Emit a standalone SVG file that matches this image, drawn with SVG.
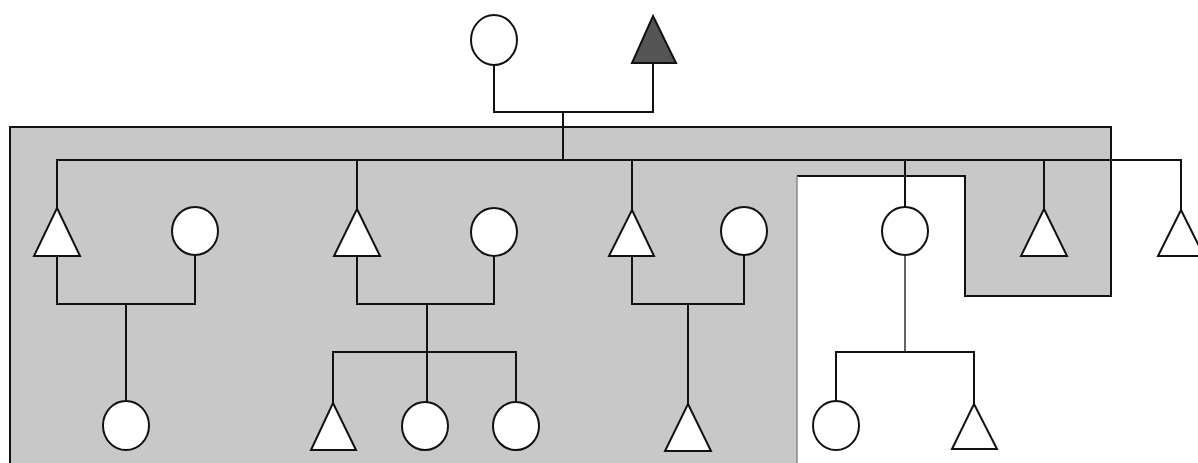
<svg xmlns="http://www.w3.org/2000/svg" width="1198" height="463" viewBox="0 0 1198 463">
<style>
.n{fill:#fff;stroke:#111;stroke-width:2}
.aff{fill:#555;stroke:#111;stroke-width:2}
.c{fill:none;stroke:#111;stroke-width:2}
.thin{fill:none;stroke:#111;stroke-width:1.3}
</style>
<rect width="1198" height="463" fill="#fff"/>
<g id="shading">
<path d="M10,127 H1111 V296 H965 V176 H797 V463 H10 Z" fill="#c8c8c8"/>
<path d="M10,463 V127 H1111 V296 H965 V176 H797" fill="none" stroke="#111" stroke-width="2"/>
<path d="M797,176 V463" fill="none" stroke="#888" stroke-width="1.5"/>
</g>
<g id="connectors">
<path class="c" d="M494,65 V112 H653 V63"/>
<path class="c" d="M563,112 V160"/>
<path class="c" d="M57,208 V160 H1181 V210"/>
<path class="c" d="M357,160 V209"/>
<path class="c" d="M632,160 V210"/>
<path class="c" d="M905,160 V207"/>
<path class="c" d="M1044,160 V209"/>
<path class="c" d="M57,256 V304 H195 V255"/>
<path class="c" d="M126,304 V401"/>
<path class="c" d="M357,256 V304 H494 V256"/>
<path class="c" d="M427,304 V402"/>
<path class="c" d="M333,403 V352 H516 V402"/>
<path class="c" d="M632,256 V304 H744 V255"/>
<path class="c" d="M688,304 V404"/>
<path class="thin" d="M905,255 V352"/>
<path class="c" d="M836,401 V352 H974 V404"/>
</g>
<g id="gen1-mother"><ellipse class="n" cx="494" cy="40" rx="23" ry="25"/></g>
<g id="gen1-father"><polygon class="aff" points="653,16 676,63 632,63"/></g>
<g id="son1"><polygon class="n" points="57,208 80,256 34,256"/></g>
<g id="wife1"><ellipse class="n" cx="195" cy="231" rx="23" ry="24"/></g>
<g id="son2"><polygon class="n" points="357,209 380,256 334,256"/></g>
<g id="wife2"><ellipse class="n" cx="494" cy="232" rx="23" ry="24"/></g>
<g id="son3"><polygon class="n" points="632,210 654,256 609,256"/></g>
<g id="wife3"><ellipse class="n" cx="744" cy="231" rx="23" ry="24"/></g>
<g id="daughter4"><ellipse class="n" cx="905" cy="231" rx="23" ry="24"/></g>
<g id="son5"><polygon class="n" points="1044,209 1067,256 1021,256"/></g>
<g id="son6"><polygon class="n" points="1181,210 1204,256 1158,256"/></g>
<g id="gc1"><ellipse class="n" cx="126" cy="425.5" rx="23" ry="24.5"/></g>
<g id="gc2"><polygon class="n" points="333,403 356,450 311,450"/></g>
<g id="gc3"><ellipse class="n" cx="425" cy="426" rx="23" ry="24"/></g>
<g id="gc4"><ellipse class="n" cx="516" cy="426" rx="23" ry="24"/></g>
<g id="gc5"><polygon class="n" points="688,404 711,451 665,451"/></g>
<g id="gc6"><ellipse class="n" cx="836" cy="425.5" rx="23" ry="24.5"/></g>
<g id="gc7"><polygon class="n" points="974,404 997,449 952,449"/></g>
</svg>
